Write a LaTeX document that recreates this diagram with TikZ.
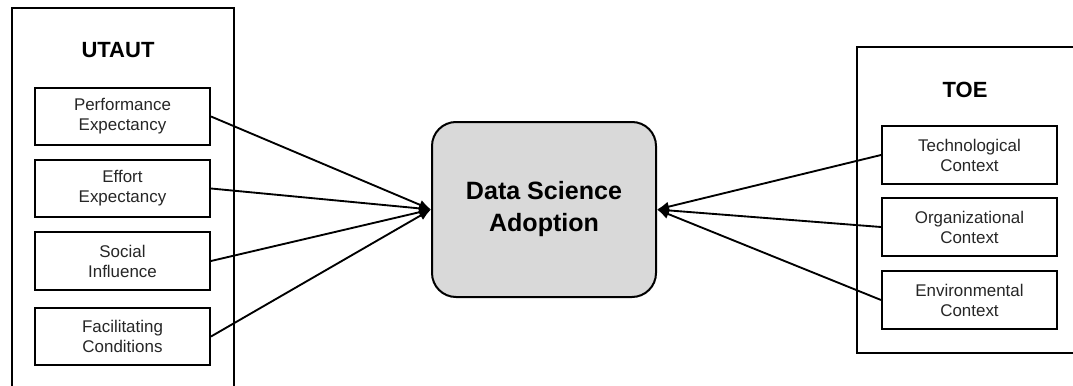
\documentclass[tikz,border=0pt]{standalone}
\usepackage{fontspec}
\setmainfont{Liberation Sans}
\usetikzlibrary{arrows.meta}
\definecolor{boxgray}{HTML}{D9D9D9}
\tikzset{
  frame/.style={line width=1.5pt, black},
  itembox/.style={draw, line width=1.5pt, minimum width=131.25pt, minimum height=43pt,
    align=center, font=\fontsize{12.7pt}{15pt}\selectfont, text=black!85, inner sep=2pt},
  titletext/.style={font=\fontsize{16.5pt}{20pt}\selectfont\bfseries},
  corebox/.style={draw, line width=1.5pt, fill=boxgray, rounded corners=18pt,
    minimum width=168pt, minimum height=131.25pt, align=center,
    font=\fontsize{18.8pt}{24pt}\selectfont\bfseries},
  link/.style={line width=1.4pt, -{Latex[length=9pt,width=7.5pt]}}
}
\begin{document}
\begin{tikzpicture}[x=0.75pt,y=-0.75pt]
\useasboundingbox (0,0) rectangle (1073,385);
\clip (0,0) rectangle (1073,385);
\fill[white] (0,0) rectangle (1073,385);
% outer frames
\draw[frame] (12,400) -- (12,8) -- (234,8) -- (234,400);
\draw[frame] (1090,47) -- (857,47) -- (857,353) -- (1090,353);
% titles
\node[titletext] (utaut) at (118,50) {UTAUT};
\node[titletext] (toe) at (965,90) {TOE};
% left items
\node[itembox] (pe) at (122.5,116.5) {Performance\\Expectancy};
\node[itembox] (ee) at (122.5,188.5) {Effort\\Expectancy};
\node[itembox] (si) at (122.5,261) {Social\\Influence};
\node[itembox] (fc) at (122.5,336.5) {Facilitating\\Conditions};
% right items
\node[itembox] (tc) at (969.5,155) {Technological\\Context};
\node[itembox] (oc) at (969.5,227) {Organizational\\Context};
\node[itembox] (ec) at (969.5,300) {Environmental\\Context};
% core
\node[corebox] (dsa) at (544,209.5) {\raisebox{-3pt}{\parbox{160pt}{\centering Data Science\\Adoption}}};
% links
\foreach \s in {pe,ee,si,fc} \draw[link] (\s.east) -- (dsa.west);
\foreach \s in {tc,oc,ec} \draw[link] (\s.west) -- (dsa.east);
\end{tikzpicture}
\end{document}
